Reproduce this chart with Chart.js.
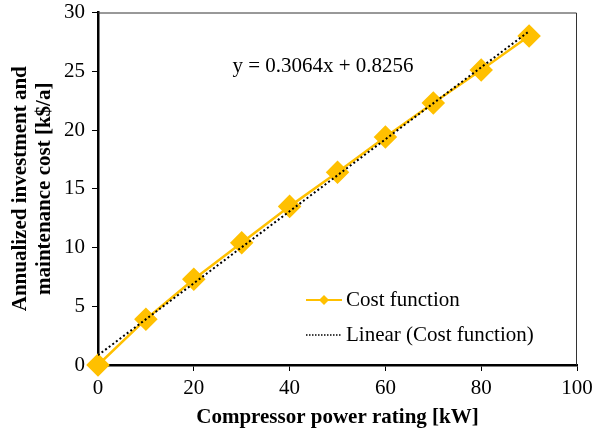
<!DOCTYPE html>
<html>
<head>
<meta charset="utf-8">
<script src="https://cdn.jsdelivr.net/npm/chart.js@4/dist/chart.umd.min.js"></script>
<style>
  html, body { margin: 0; padding: 0; background: #fff; }
  #wrap { width: 592px; height: 434px; }
</style>
</head>
<body>
<div id="wrap"><canvas id="costChart" width="592" height="434"></canvas></div>
<script>
const power = [0, 10, 20, 30, 40, 50, 60, 70, 80, 90];
const cost = [0, 3.9, 7.3, 10.4, 13.5, 16.4, 19.4, 22.3, 25.1, 28.0];
const trendX = [0, 90];
const trendY = [0.83, 28.40];
const equation = 'y = 0.3064x + 0.8256';
const legendLabels = ['Cost function', 'Linear (Cost function)'];

const serif = '"Liberation Serif", "Times New Roman", serif';
const gold = '#FFC000';

// frame, equation and the in-plot legend
const extras = {
  id: 'extras',
  afterDraw(chart) {
    const { ctx, chartArea: a } = chart;
    ctx.save();
    ctx.strokeStyle = '#333';
    ctx.lineWidth = 1;
    ctx.beginPath();
    ctx.moveTo(a.left, a.top + 0.5);
    ctx.lineTo(a.right - 0.5, a.top + 0.5);
    ctx.lineTo(a.right - 0.5, a.bottom);
    ctx.stroke();

    ctx.fillStyle = '#000';
    ctx.font = '21px ' + serif;
    ctx.textBaseline = 'middle';
    ctx.textAlign = 'center';
    ctx.fillText(equation, 323, 66);

    ctx.textAlign = 'left';
    // legend row 1
    let y = 300;
    ctx.strokeStyle = gold;
    ctx.lineWidth = 2;
    ctx.beginPath();
    ctx.moveTo(306, y); ctx.lineTo(342, y); ctx.stroke();
    ctx.fillStyle = gold;
    ctx.beginPath();
    ctx.moveTo(324, y - 5); ctx.lineTo(329, y); ctx.lineTo(324, y + 5); ctx.lineTo(319, y);
    ctx.closePath(); ctx.fill();
    ctx.fillStyle = '#000';
    ctx.fillText(legendLabels[0], 346, y);
    // legend row 2
    y = 335;
    ctx.strokeStyle = '#000';
    ctx.lineWidth = 1.5;
    ctx.setLineDash([1.5, 1.5]);
    ctx.beginPath();
    ctx.moveTo(306, y); ctx.lineTo(341, y); ctx.stroke();
    ctx.setLineDash([]);
    ctx.fillText(legendLabels[1], 346, y);
    ctx.restore();
  }
};

new Chart(document.getElementById('costChart'), {
  type: 'scatter',
  data: {
    datasets: [
      {
        label: legendLabels[0],
        data: power.map((x, i) => ({ x, y: cost[i] })),
        showLine: true,
        borderColor: gold,
        backgroundColor: gold,
        borderWidth: 2.5,
        pointStyle: 'rectRot',
        pointRadius: 10,
        pointHoverRadius: 10,
        clip: false,
        order: 2,
      },
      {
        label: legendLabels[1],
        data: trendX.map((x, i) => ({ x, y: trendY[i] })),
        showLine: true,
        borderColor: '#000',
        borderWidth: 2,
        borderDash: [2, 2.5],
        pointRadius: 0,
        order: 1,
      },
    ],
  },
  plugins: [extras],
  options: {
    responsive: false,
    animation: false,
    events: [],
    layout: { padding: { top: 12, right: 15, left: 5, bottom: 0 } },
    plugins: { legend: { display: false }, tooltip: { enabled: false } },
    scales: {
      x: {
        type: 'linear',
        min: 0, max: 100,
        ticks: { stepSize: 20, color: '#000', font: { family: serif, size: 21 }, padding: 5, maxRotation: 0 },
        grid: { drawOnChartArea: false, drawTicks: true, tickLength: 6, color: '#000' },
        border: { display: true, color: '#000', width: 2.5 },
        title: { display: true, text: 'Compressor power rating [kW]', color: '#000',
                 font: { family: serif, size: 21, weight: 'bold' }, padding: { top: 4 } },
        afterFit(s) { s.height = 69; s.paddingLeft = 0; s.paddingRight = 0; },
      },
      y: {
        min: 0, max: 30,
        ticks: { stepSize: 5, color: '#000', font: { family: serif, size: 21 }, padding: 7 },
        grid: { drawOnChartArea: false, drawTicks: true, tickLength: 6, color: '#000' },
        border: { display: true, color: '#000', width: 2.5 },
        title: { display: true, text: ['Annualized investment and', 'maintenance cost [k$/a]'], color: '#000',
                 font: { family: serif, size: 21, weight: 'bold', lineHeight: 1.12 }, padding: { bottom: 2 } },
        afterFit(s) { s.width = 93; s.paddingTop = 0; s.paddingBottom = 0; },
      },
    },
  },
});
</script>
</body>
</html>
